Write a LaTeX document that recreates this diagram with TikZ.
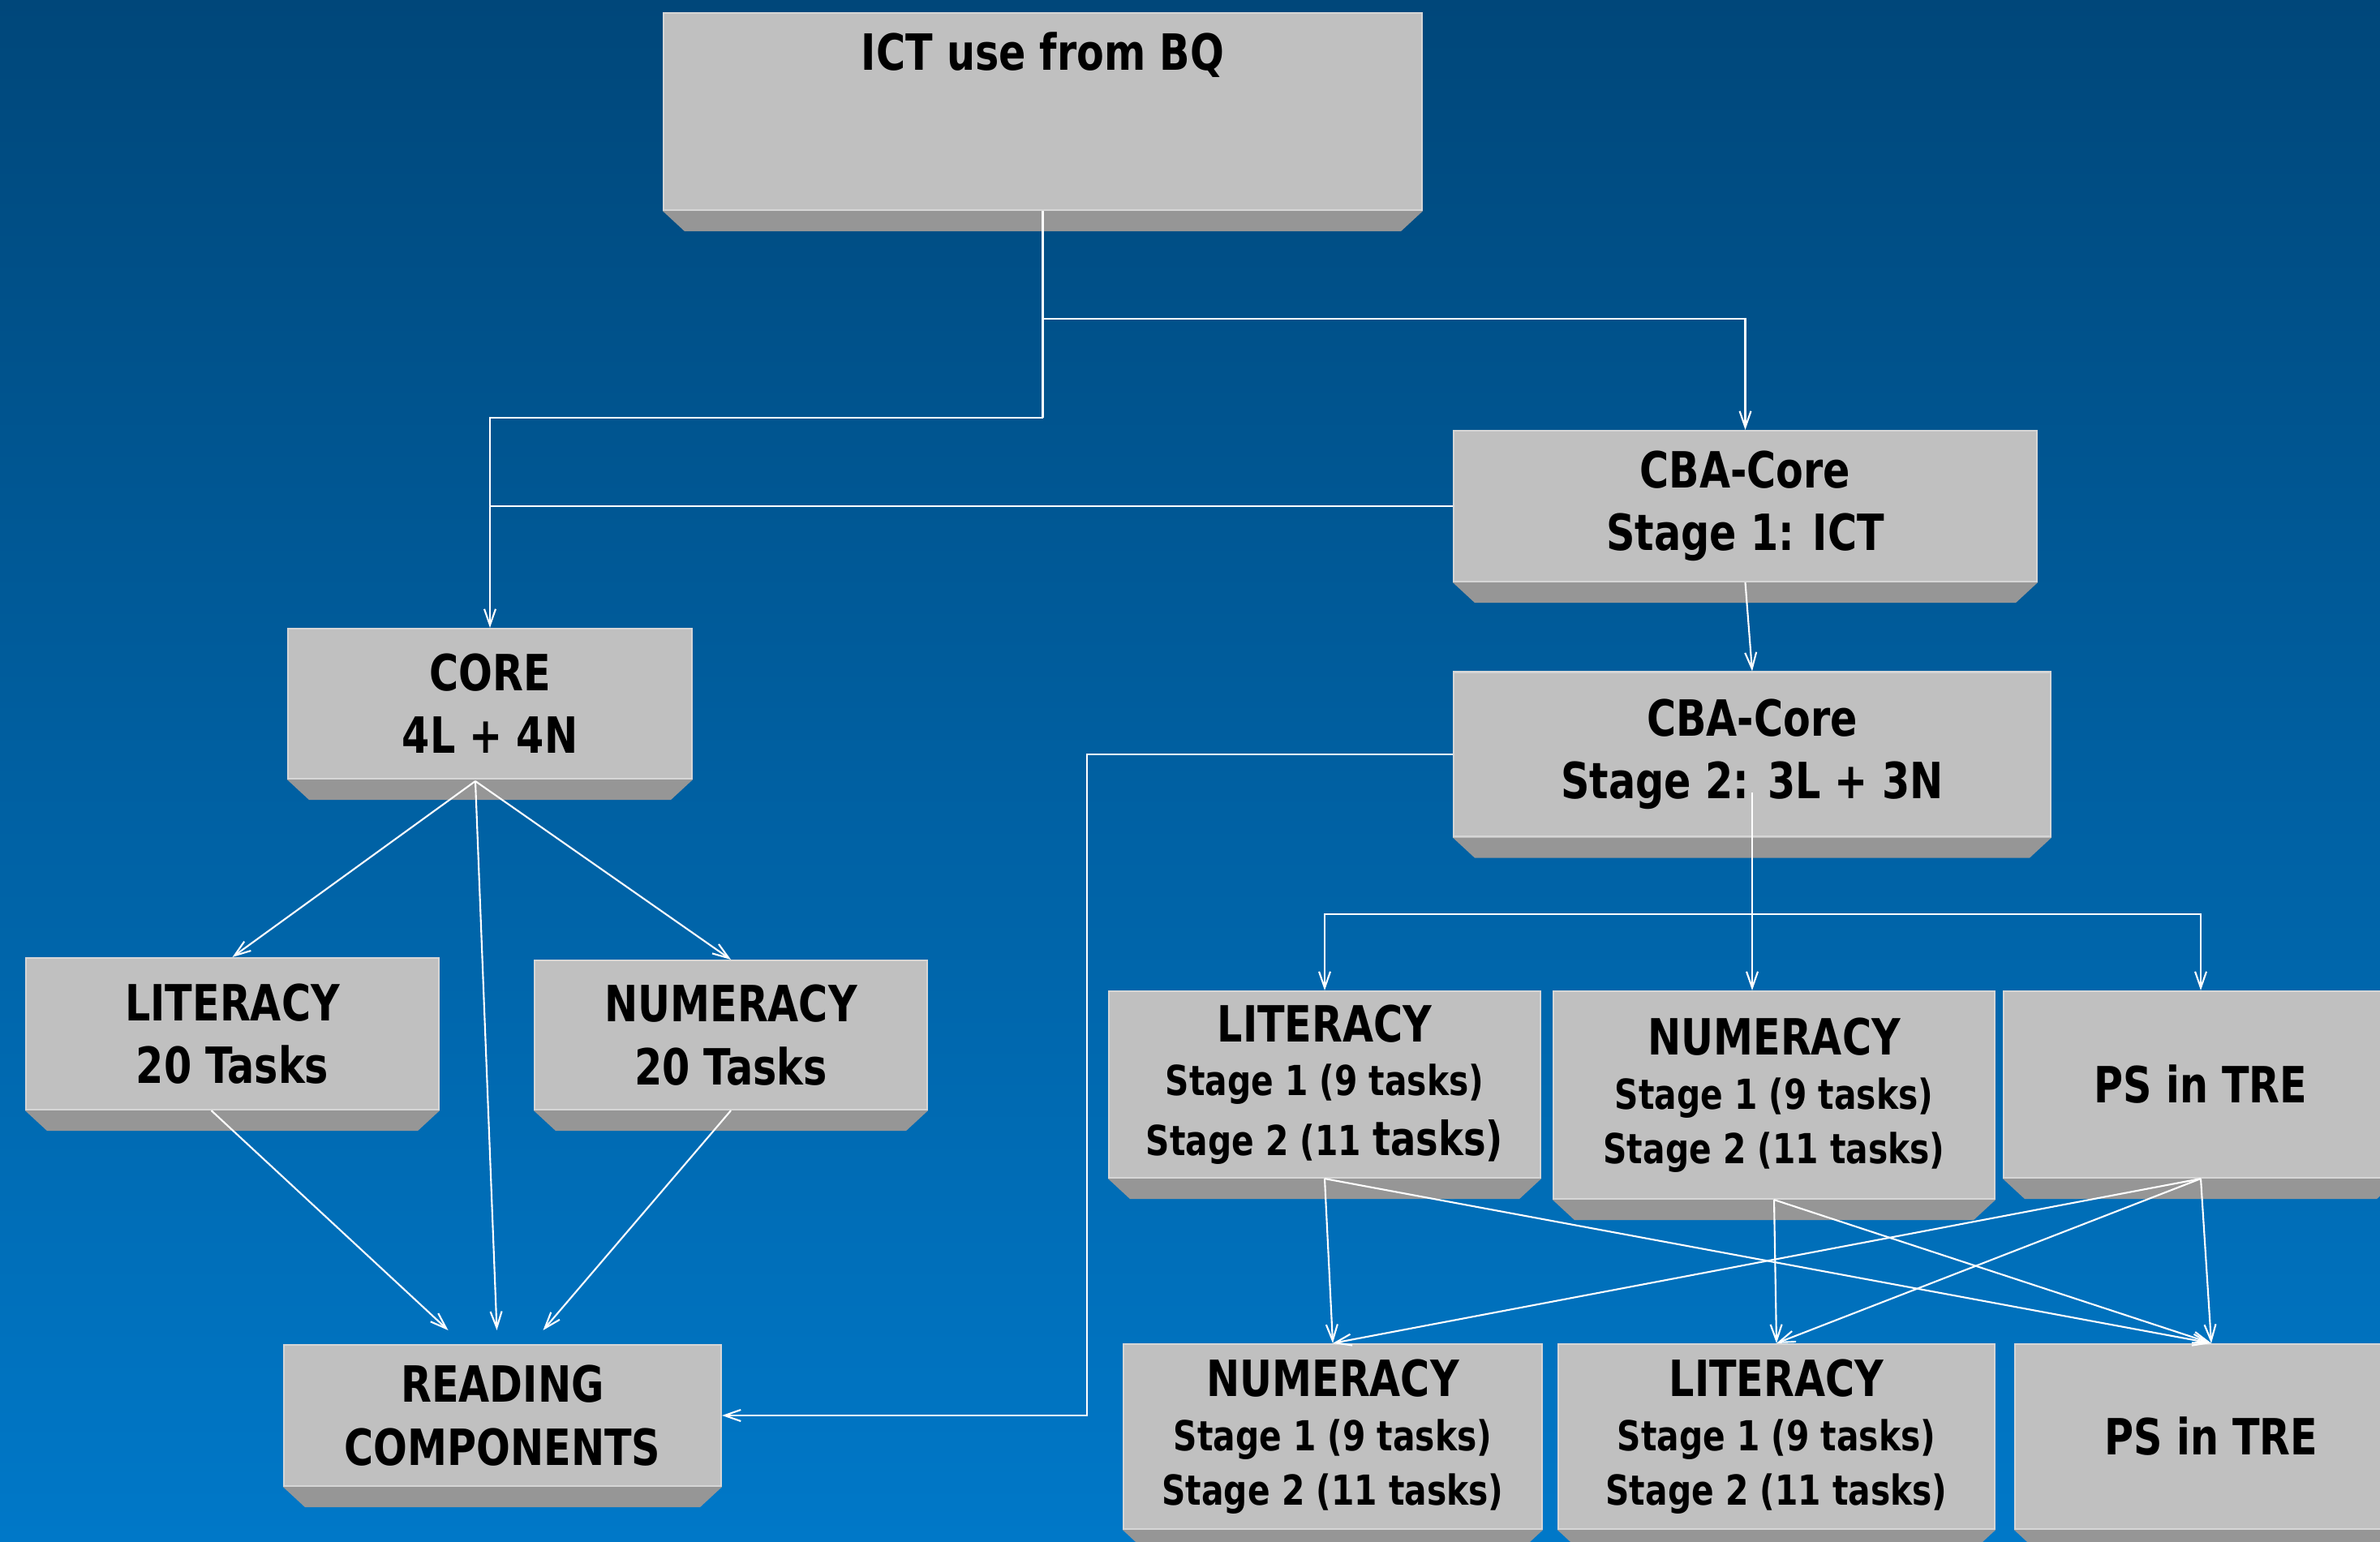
\documentclass[tikz,border=0pt]{standalone}
\usepackage{fontspec}
\setmainfont{DejaVu Sans}[FakeStretch=0.8]
\usetikzlibrary{arrows.meta}

\definecolor{bgtop}{HTML}{00477A}
\definecolor{bgbot}{HTML}{0078C8}
\definecolor{boxface}{HTML}{C0C0C0}
\definecolor{boxside}{HTML}{969696}
\definecolor{boxrim}{HTML}{D6D6D6}

\newcommand{\stagesize}{\fontsize{14.5}{19}\selectfont}
\newcommand{\titlesize}{\fontsize{17.5}{21}\selectfont}
\newcommand{\bevel}[1]{%
  \fill[boxside] (#1.south west) -- (#1.south east)
    -- ([xshift=-0.27cm,yshift=-0.25cm]#1.south east)
    -- ([xshift=0.27cm,yshift=-0.25cm]#1.south west) -- cycle;}

\begin{document}
\begin{tikzpicture}[
  box/.style={draw=boxrim, line width=0.6pt, fill=boxface, inner sep=0pt,
    align=center, font=\bfseries\fontsize{17.5}{22}\selectfont},
  stagebox/.style={box, font=\bfseries\stagesize},
  link/.style={white, line width=0.6pt},
  arr/.style={link, -{Straight Barb[length=0.2cm,width=0.14cm]}}
]

% Background
\useasboundingbox (0,0) rectangle (29.34,-19);
\clip (0,0) rectangle (29.34,-19);
\shade[top color=bgtop, bottom color=bgbot] (0,0) rectangle (29.34,-19);

% Boxes
\node[box, anchor=north, minimum width=9.35cm, text height=0.70cm, text depth=1.73cm]
  (ict) at (12.855,-0.15) {ICT use from BQ};
\node[box, minimum width=7.19cm, minimum height=1.86cm] (cbaone) at (21.515,-6.24)
  {CBA-Core\\Stage 1: ICT};
\node[box, minimum width=4.98cm, minimum height=1.85cm] (core) at (6.04,-8.675)
  {CORE\\4L + 4N};
\node[box, minimum width=7.36cm, minimum height=2.03cm] (cbatwo) at (21.6,-9.30)
  {CBA-Core\\Stage 2: 3L + 3N};
\node[box, minimum width=5.09cm, minimum height=1.87cm] (littw) at (2.865,-12.745)
  {LITERACY\\20 Tasks};
\node[box, minimum width=4.84cm, minimum height=1.84cm] (numtw) at (9.01,-12.76)
  {NUMERACY\\20 Tasks};
\node[box, minimum width=5.39cm, minimum height=1.74cm] (reading) at (6.195,-17.45)
  {READING\\COMPONENTS};

\node[stagebox, minimum width=5.32cm, minimum height=2.30cm] (litst) at (16.33,-13.37)
  {{\titlesize LITERACY}\\Stage 1 (9 tasks)\\[2pt]Stage 2 (11 {\fontsize{16.5}{19}\selectfont tasks)}};
\node[stagebox, minimum width=5.44cm, minimum height=2.56cm] (numst) at (21.87,-13.50)
  {{\titlesize NUMERACY}\\Stage 1 (9 tasks)\\Stage 2 (11 tasks)};
\node[box, minimum width=4.86cm, minimum height=2.30cm] (pstop) at (27.13,-13.37)
  {PS in TRE};

\node[stagebox, minimum width=5.16cm, minimum height=2.28cm] (numbot) at (16.43,-17.71)
  {{\titlesize NUMERACY}\\Stage 1 (9 tasks)\\Stage 2 (11 tasks)};
\node[stagebox, minimum width=5.38cm, minimum height=2.28cm] (litbot) at (21.90,-17.71)
  {{\titlesize LITERACY}\\Stage 1 (9 tasks)\\Stage 2 (11 tasks)};
\node[box, minimum width=4.84cm, minimum height=2.28cm] (psbot) at (27.26,-17.71)
  {PS in TRE};

% Bevels
\foreach \n in {ict,cbaone,core,cbatwo,littw,numtw,reading,litst,numst,pstop,numbot,litbot,psbot}
  {\bevel{\n}}

% Junctions
\coordinate (jone) at (12.855,-3.93);
\coordinate (jtwo) at (12.855,-5.15);
\coordinate (split) at (21.62,-11.27);
\coordinate (fan) at (5.86,-9.63);

% Top connectors
\draw[link] (ict.south) -- (jtwo);
\draw[arr] (jone) -| (cbaone.north);
\draw[arr] (jtwo) -| (core.north);
\draw[link] (cbaone.west) -- (cbaone.west -| core.north);
\draw[arr] (cbaone.south) -- (cbatwo.north);
\draw[arr] (cbatwo.west) -- ++(-4.51,0) |- (reading.east);

% Stage 2 split
\draw[arr] ([yshift=-0.47cm]cbatwo.center) -- (cbatwo.center |- numst.north);
\draw[link] (split -| litst.north) -- (split -| pstop.north);
\draw[arr] (split) -| (litst.north);
\draw[arr] (split) -| (pstop.north);

% Core fan
\draw[arr] (fan) -- (littw.north);
\draw[arr] (fan) -- (numtw.north);
\draw[arr] (fan) -- ([xshift=-0.07cm,yshift=0.17cm]reading.north);
\draw[arr] ([xshift=-0.26cm]littw.south) -- ([xshift=-0.67cm,yshift=0.17cm]reading.north);
\draw[arr] (numtw.south) -- ([xshift=0.5cm,yshift=0.17cm]reading.north);

% Crossing links
\draw[arr] (litst.south) -- (numbot.north);
\draw[arr] (litst.south) -- (psbot.north);
\draw[arr] (numst.south) -- (litbot.north);
\draw[arr] (numst.south) -- (psbot.north);
\draw[arr] (pstop.south) -- (numbot.north);
\draw[arr] (pstop.south) -- (litbot.north);
\draw[arr] (pstop.south) -- (psbot.north);

\end{tikzpicture}
\end{document}
